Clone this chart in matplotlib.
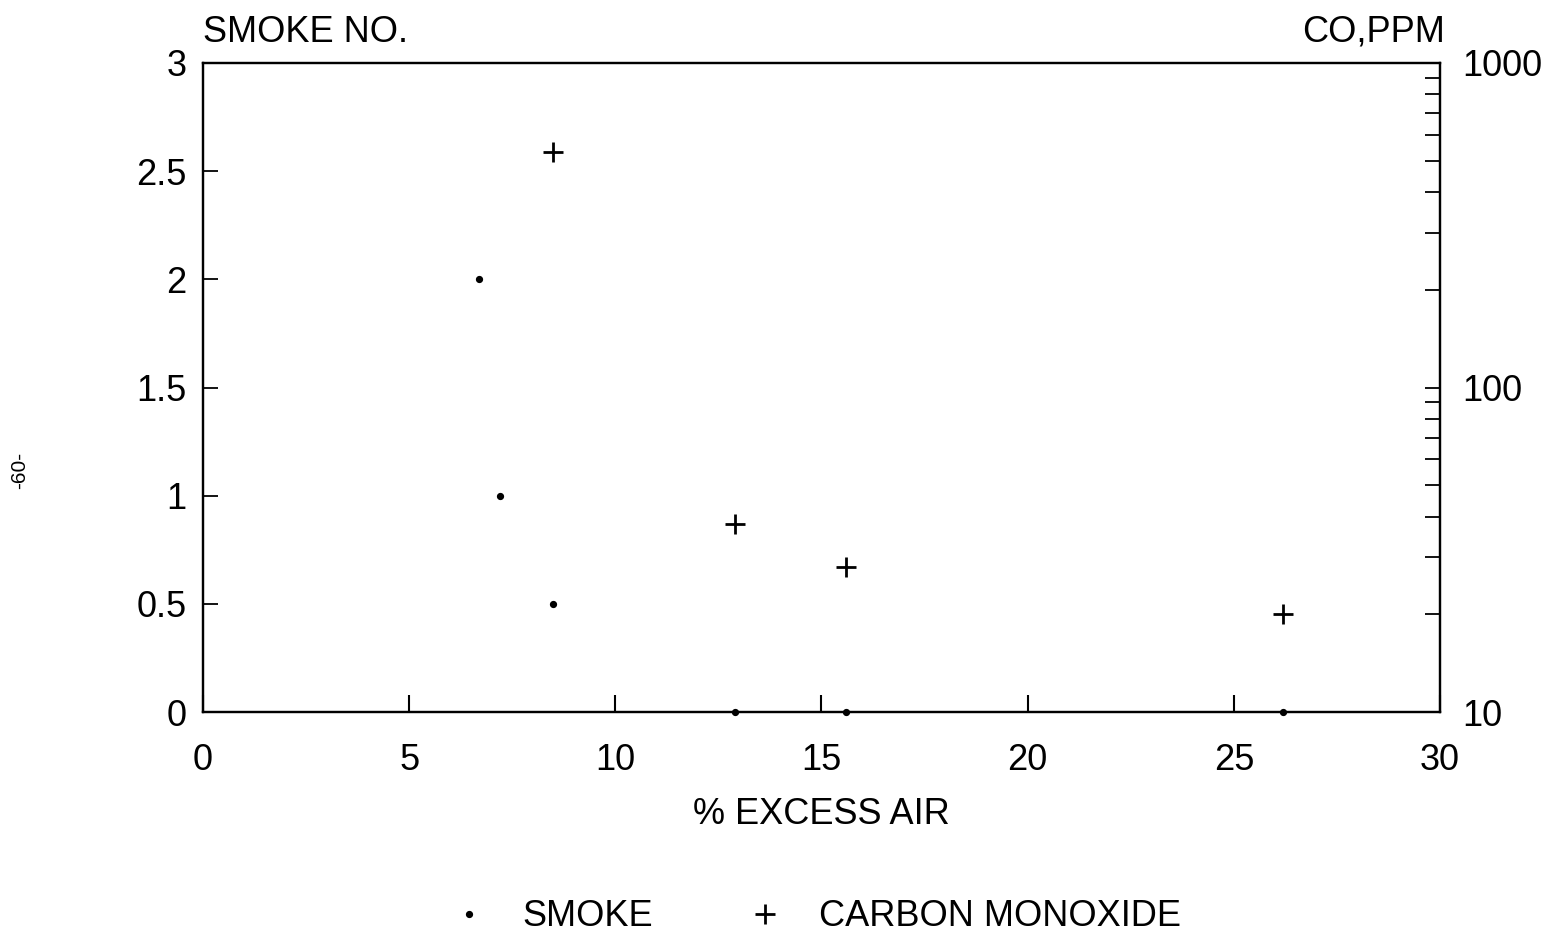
import matplotlib
matplotlib.use("Agg")
import matplotlib.pyplot as plt
from matplotlib.ticker import LogLocator, NullFormatter, FixedLocator, FixedFormatter

plt.rcParams['font.family'] = ['Liberation Sans', 'DejaVu Sans']

# Data
excess_air_smoke = [6.7, 7.2, 8.5, 12.9, 15.6, 26.2]
smoke_no = [2.0, 1.0, 0.5, 0.0, 0.0, 0.0]
excess_air_co = [8.5, 12.9, 15.6, 26.2]
co_ppm = [530, 38, 28, 20]

x_ticks = [0, 5, 10, 15, 20, 25, 30]
y_ticks = [0, 0.5, 1, 1.5, 2, 2.5, 3]
y_tick_labels = ["0", "0.5", "1", "1.5", "2", "2.5", "3"]
co_ticks = [10, 100, 1000]
co_tick_labels = ["10", "100", "1000"]

fs = 26
fig = plt.figure(figsize=(15.62, 9.42), dpi=100)
ax = fig.add_axes([203/1562, 1-712/942, (1440-203)/1562, (712-63)/942])
ax2 = ax.twinx()

ax.plot(excess_air_smoke, smoke_no, linestyle='none', marker='o', markersize=4.2,
        color='black', clip_on=False, label='SMOKE', zorder=5)
ax2.plot(excess_air_co, co_ppm, linestyle='none', marker='+', markersize=15,
         markeredgewidth=2.0, color='black', clip_on=False, label='CARBON MONOXIDE')

ax.set_xlim(0, 30)
ax.set_ylim(0, 3)
ax2.set_yscale('log')
ax2.set_ylim(10, 1000)

ax.xaxis.set_major_locator(FixedLocator(x_ticks))
ax.set_xticklabels([str(v) for v in x_ticks])
ax.yaxis.set_major_locator(FixedLocator(y_ticks))
ax.yaxis.set_major_formatter(FixedFormatter(y_tick_labels))
ax2.yaxis.set_major_locator(FixedLocator(co_ticks))
ax2.yaxis.set_major_formatter(FixedFormatter(co_tick_labels))
ax2.yaxis.set_minor_locator(LogLocator(base=10, subs=range(2, 10)))
ax2.yaxis.set_minor_formatter(NullFormatter())

ax.tick_params(axis='x', direction='in', length=12, width=1.5, labelsize=fs, pad=22,
               top=False)
ax.tick_params(axis='y', direction='in', length=11, width=1.3, labelsize=fs, pad=12,
               right=False)
ax2.tick_params(axis='y', which='both', direction='in', length=11, width=1.3,
                labelsize=fs, pad=16)
ax2.tick_params(axis='y', which='major', right=True)

for a in (ax, ax2):
    for s in a.spines.values():
        s.set_linewidth(1.6)

ax.set_xlabel('% EXCESS AIR', fontsize=fs, labelpad=14)

fig.text(203/1562, 1-32/942, 'SMOKE NO.', fontsize=fs, ha='left', va='center')
fig.text(1445/1562, 1-32/942, 'CO,PPM', fontsize=fs, ha='right', va='center')
fig.text(20/1562, 1-470/942, '-60-', fontsize=15, rotation=90, ha='center', va='center')

h1, l1 = ax.get_legend_handles_labels()
h2, l2 = ax2.get_legend_handles_labels()
fig.legend(h1 + h2, l1 + l2, loc='center', bbox_to_anchor=(816/1562, 1-917/942),
           ncol=2, frameon=False, fontsize=fs, handlelength=1.0,
           handletextpad=1.0, columnspacing=2.6)

fig.savefig('out.png', dpi=100)
